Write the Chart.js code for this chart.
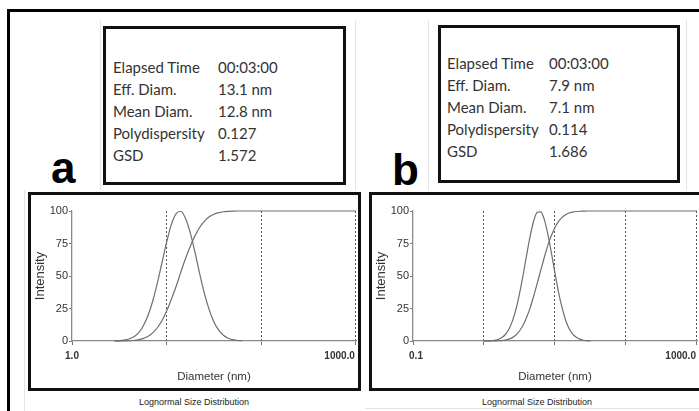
<!DOCTYPE html>
<html>
<head>
<meta charset="utf-8">
<script src="https://cdn.jsdelivr.net/npm/chart.js@4.4.1/dist/chart.umd.min.js"></script>
<style>
  body { margin:0; width:699px; height:411px; overflow:hidden; background:#fff; position:relative; font-family:'Liberation Sans', Arial, sans-serif; }
  .frame { position:absolute; left:7px; top:9px; width:710px; height:420px; border-top:3px solid #000; border-left:3px solid #000; }
  .faint { position:absolute; background:#e4e4e4; }
  .stats { position:absolute; border:3px solid #111; box-sizing:border-box; background:#fff; }
  .rows { position:absolute; font-family:Lato, 'Open Sans', sans-serif; font-size:15px; line-height:22px; color:#333; white-space:pre; }
  .tag { position:absolute; font:bold 44px 'Liberation Sans', Arial, sans-serif; line-height:44px; color:#000; }
  .panel { position:absolute; border:3px solid #111; background:#fff; }
  .panel canvas { display:block; }
  .caption { position:absolute; font-size:9px; line-height:12px; color:#222; width:200px; text-align:center; }
</style>
</head>
<body>
<div class="frame"></div>
<div class="faint" style="left:24px; top:190px; width:1px; height:221px;"></div>
<div class="faint" style="left:100px; top:20px; width:1px; height:170px;"></div>
<div class="faint" style="left:355px; top:20px; width:1px; height:170px;"></div>
<div class="faint" style="left:428px; top:20px; width:1px; height:170px;"></div>
<div class="faint" style="left:686px; top:20px; width:1px; height:170px;"></div>
<div class="faint" style="left:365px; top:408px; width:340px; height:1px;"></div>

<div class="stats" style="left:103px; top:26px; width:243px; height:159px;"></div>
<div class="rows" id="labelsA" style="left:113px; top:56px;"></div>
<div class="rows" id="valuesA" style="left:218px; top:56px;"></div>

<div class="stats" style="left:438px; top:25px; width:242px; height:158px;"></div>
<div class="rows" id="labelsB" style="left:447px; top:52px;"></div>
<div class="rows" id="valuesB" style="left:549px; top:52px;"></div>

<div class="tag" style="left:51px; top:146px;">a</div>
<div class="tag" style="left:392px; top:148px;">b</div>

<div class="panel" style="left:28px; top:192px;"><canvas id="chartA" width="327" height="193"></canvas></div>
<div class="panel" style="left:369px; top:192px;"><canvas id="chartB" width="330" height="193"></canvas></div>

<div class="caption" style="left:94px; top:396px;">Lognormal Size Distribution</div>
<div class="caption" style="left:437px; top:396px;">Lognormal Size Distribution</div>

<script>
// STATS BOXES
const statLabels = ['Elapsed Time', 'Eff. Diam.', 'Mean Diam.', 'Polydispersity', 'GSD'];
const statsA = ['00:03:00', '13.1 nm', '12.8 nm', '0.127', '1.572'];
const statsB = ['00:03:00', '7.9 nm', '7.1 nm', '0.114', '1.686'];

// PANEL A (diameter nm, intensity, cumulative)
const diamA = [2.82, 3.16, 3.55, 3.98, 4.47, 5.01, 5.62, 6.31, 7.08, 7.94, 8.91, 10.0, 11.2, 12.6,
  14.1, 15.8, 17.8, 20.0, 22.4, 25.1, 28.2, 31.6, 35.5, 39.8, 44.7, 50.1, 56.2, 63.1, 1000];
const intensityA = [0.1, 0.3, 0.7, 1.5, 3.1, 6.1, 11.2, 19.0, 30.0, 44.0, 60.0, 76.0, 89.5, 98.0,
  99.8, 94.4, 83.0, 67.8, 51.5, 36.4, 23.9, 14.6, 8.3, 4.4, 2.1, 1.0, 0.4, 0.2, null];
const cumulativeA = [0, 0, 0.1, 0.2, 0.4, 0.9, 1.8, 3.4, 6.1, 10.0, 15.6, 23.0, 31.9, 42.1,
  52.8, 63.3, 72.9, 81.1, 87.5, 92.2, 95.5, 97.5, 98.7, 99.4, 99.7, 99.9, 100, 100, 100];
const decadesA = [1, 10, 100, 1000];
const xLabelsA = ['1.0', '1000.0'];

// PANEL B
const diamB = [1.0, 1.12, 1.26, 1.41, 1.58, 1.78, 2.0, 2.24, 2.51, 2.82, 3.16, 3.55, 3.98, 4.47, 5.01,
  5.62, 6.31, 7.08, 7.94, 8.91, 10.0, 11.2, 12.6, 14.1, 15.8, 17.8, 20.0, 22.4, 25.1, 28.2, 31.6, 1000];
const intensityB = [0, 0.1, 0.2, 0.6, 1.2, 2.6, 5.0, 9.0, 15.3, 24.3, 36.2, 50.5, 65.9, 80.6, 92.3,
  99.0, 99.4, 93.4, 82.2, 67.8, 52.3, 37.8, 25.6, 16.2, 9.6, 5.3, 2.8, 1.4, 0.6, 0.3, 0.1, null];
const cumulativeB = [0, 0, 0, 0.1, 0.2, 0.3, 0.7, 1.4, 2.6, 4.6, 7.7, 12.1, 18.1, 25.5, 34.5,
  44.3, 54.5, 64.4, 73.6, 81.1, 87.3, 91.8, 95.1, 97.2, 98.5, 99.2, 99.6, 99.8, 99.9, 100, 100, 100];
const decadesB = [0.1, 1, 10, 100, 1000];
const xLabelsB = ['0.1', '1000.0'];

const yTicks = [0, 25, 50, 75, 100];

document.getElementById('labelsA').textContent = statLabels.join('\n');
document.getElementById('valuesA').textContent = statsA.join('\n');
document.getElementById('labelsB').textContent = statLabels.join('\n');
document.getElementById('valuesB').textContent = statsB.join('\n');

const FONT = "'Liberation Sans', Arial, sans-serif";
const curveColor = '#6e6e6e';

//only first and last decade get a label
const xLabelPlugin = {
  id: 'xlabels',
  afterDraw(chart, args, opts) {
    const s = chart.scales.x;
    const ctx = chart.ctx;
    const first = opts.decades[0];
    const last = opts.decades[opts.decades.length - 1];
    ctx.save();
    ctx.font = 'bold 10px ' + FONT;
    ctx.fillStyle = '#333';
    ctx.textBaseline = 'middle';
    ctx.textAlign = 'center';
    ctx.fillText(opts.labels[0], s.getPixelForValue(first) + opts.shift, s.top + 15);
    ctx.textAlign = 'right';
    ctx.fillText(opts.labels[1], s.getPixelForValue(last) - 1, s.top + 15);
    ctx.restore();
  }
};

function makeChart (id, diam, intensity, cumulative, decades, xLabels, padRight, shift) {
  const line = (vals) => ({
    data: diam.map((d, i) => ({x: d, y: vals[i]})),
    borderColor: curveColor,
    borderWidth: 1.2,
    pointRadius: 0,
    fill: false,
    cubicInterpolationMode: 'monotone',
    spanGaps: false,
    clip: 3
  });

  return new Chart(document.getElementById(id), {
    type: 'line',
    data: { datasets: [line(intensity), line(cumulative)] },
    plugins: [xLabelPlugin],
    options: {
      responsive: false,
      animation: false,
      events: [],
      layout: { padding: { top: 16, right: padRight, bottom: 0, left: 0 } },
      plugins: {
        legend: { display: false },
        tooltip: { enabled: false },
        xlabels: { labels: xLabels, decades: decades, shift: shift }
      },
      scales: {
        x: {
          type: 'logarithmic',
          min: decades[0],
          //tiny margin so the last dashed line is not dropped by rounding
          max: decades[decades.length - 1] * 1.002,
          afterBuildTicks: s => { s.ticks = decades.map(v => ({value: v})); },
          afterFit: s => { s.height = 47; },
          ticks: { display: false },
          grid: {
            color: c => c.index === 0 ? 'rgba(0,0,0,0)' : '#555',
            lineWidth: 1,
            drawTicks: true,
            tickLength: 4,
            tickColor: '#777'
          },
          border: { color: '#8a8a8a', width: 1.3, dash: [2, 2] },
          title: {
            display: true, text: 'Diameter (nm)', color: '#333',
            font: { family: FONT, size: 11.5 }, padding: { top: 0, bottom: 4 }
          }
        },
        y: {
          min: 0,
          max: 100,
          afterBuildTicks: s => { s.ticks = yTicks.map(v => ({value: v})); },
          afterFit: s => { s.width = 41; },
          ticks: { color: '#333', font: { family: FONT, size: 11 }, padding: 1 },
          grid: { drawOnChartArea: false, drawTicks: true, tickLength: 3, tickColor: '#777' },
          border: { color: '#8a8a8a', width: 1.3 },
          title: {
            display: true, text: 'Intensity', color: '#333',
            font: { family: FONT, size: 13 }, padding: { top: 2, bottom: 0 }
          }
        }
      }
    }
  });
}

makeChart('chartA', diamA, intensityA, cumulativeA, decadesA, xLabelsA, 2, 0);
makeChart('chartB', diamB, intensityB, cumulativeB, decadesB, xLabelsB, 5, 3);
</script>
</body>
</html>
